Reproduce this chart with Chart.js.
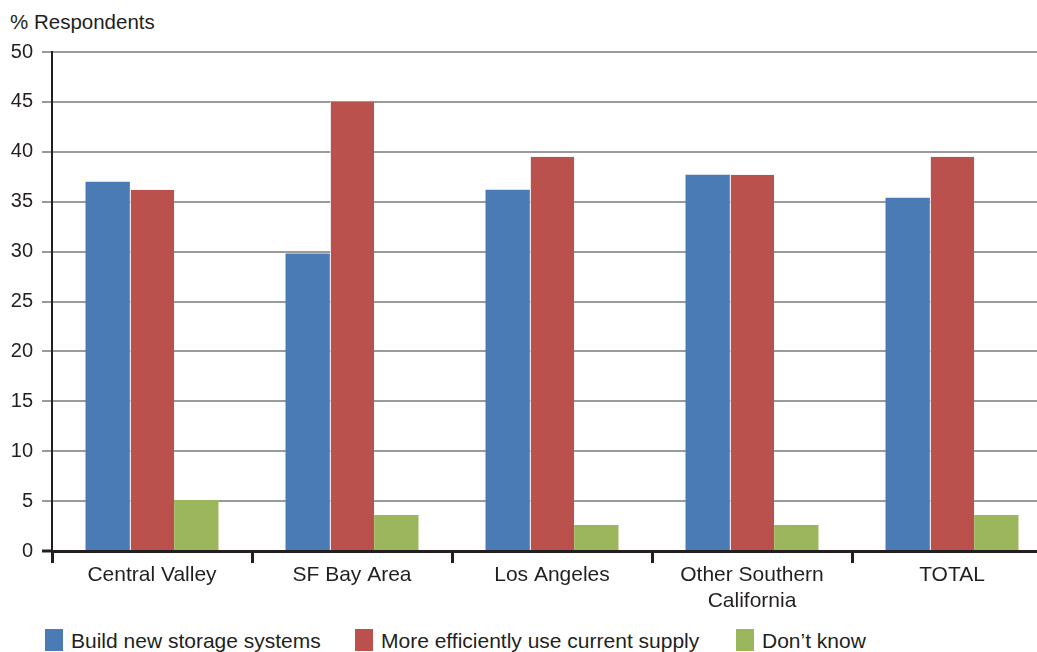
<!DOCTYPE html>
<html>
<head>
<meta charset="utf-8">
<script src="https://cdn.jsdelivr.net/npm/chart.js@4/dist/chart.umd.min.js"></script>
<style>
  html, body { margin: 0; padding: 0; background: #fff; overflow: hidden; width: 1037px; height: 652px; }
  body { position: relative; font-family: "Liberation Sans", Arial, sans-serif; color: #231f20; }
  #wrap { position: absolute; left: 0; top: 0; width: 1052px; height: 611px; }
  #axisTitle { position: absolute; left: 10px; top: 9px; font-size: 20.5px; line-height: 26px; white-space: nowrap; }
  .lg { position: absolute; top: 629px; display: flex; align-items: flex-start; font-size: 21px; white-space: nowrap; }
  .lg .sw { width: 18px; height: 22px; margin-right: 8px; }
  .lg span { line-height: 22px; position: relative; top: 1px; }
</style>
</head>
<body>
<div id="axisTitle">% Respondents</div>
<div id="wrap"><canvas id="c" width="1052" height="611"></canvas></div>
<div id="legend"></div>
<script>
// Regions surveyed
const categories = ['Central Valley', 'SF Bay Area', 'Los Angeles', ['Other Southern', 'California'], 'TOTAL'];
// Share of respondents (%) preferring each approach
const buildStorage   = [37.0, 29.8, 36.2, 37.7, 35.4];
const useEfficiently = [36.2, 45.0, 39.5, 37.7, 39.5];
const dontKnow       = [5.1, 3.6, 2.6, 2.6, 3.6];
const seriesNames  = ['Build new storage systems', 'More efficiently use current supply', 'Don\u2019t know'];
const seriesColors = ['#4a7bb4', '#ba514d', '#9bb65c'];
const yTicks = [0, 5, 10, 15, 20, 25, 30, 35, 40, 45, 50];

const ink = '#231f20';
const font = 'Liberation Sans';

const chart = new Chart(document.getElementById('c'), {
  type: 'bar',
  data: {
    labels: categories,
    datasets: [buildStorage, useEfficiently, dontKnow].map((d, i) => ({
      label: seriesNames[i],
      data: d,
      backgroundColor: seriesColors[i],
      borderColor: '#ffffff',
      borderWidth: i === 1 ? { left: 1, right: 0, top: 0, bottom: 0 } : 0,
      borderSkipped: false,
      categoryPercentage: 0.665,
      barPercentage: 1.0
    }))
  },
  options: {
    responsive: false,
    animation: false,
    layout: { padding: { top: 52, right: 0, left: 0, bottom: 0 } },
    plugins: { legend: { display: false }, tooltip: { enabled: false }, title: { display: false } },
    scales: {
      x: {
        grid: { drawOnChartArea: false, drawTicks: true, tickLength: 12, tickColor: ink, tickWidth: 3, offset: true },
        border: { display: true, color: ink, width: 3 },
        ticks: { color: ink, font: { family: font, size: 21, lineHeight: 1.2 }, padding: 0, maxRotation: 0, autoSkip: false },
        afterFit: s => { s.height = 60; }
      },
      y: {
        min: 0, max: 50,
        afterBuildTicks: s => { s.ticks = yTicks.map(v => ({ value: v })); },
        grid: {
          color: '#9a9a9a', lineWidth: 2, drawTicks: true, tickLength: 10,
          tickColor: c => (c.tick && c.tick.value === 0 ? ink : '#9a9a9a'),
          tickWidth: c => (c.tick && c.tick.value === 0 ? 3 : 2)
        },
        border: { display: true, color: ink, width: 2 },
        ticks: { color: ink, font: { family: font, size: 20 }, padding: 9 },
        afterFit: s => { s.width = 52; }
      }
    }
  }
});

// Legend built from the dataset names and colours
const legendX = [45, 355, 736];
const legend = document.getElementById('legend');
seriesNames.forEach((name, i) => {
  const item = document.createElement('div');
  item.className = 'lg';
  item.style.left = legendX[i] + 'px';
  item.innerHTML = '<div class="sw" style="background:' + seriesColors[i] + '"></div><span>' + name + '</span>';
  legend.appendChild(item);
});
</script>
</body>
</html>
